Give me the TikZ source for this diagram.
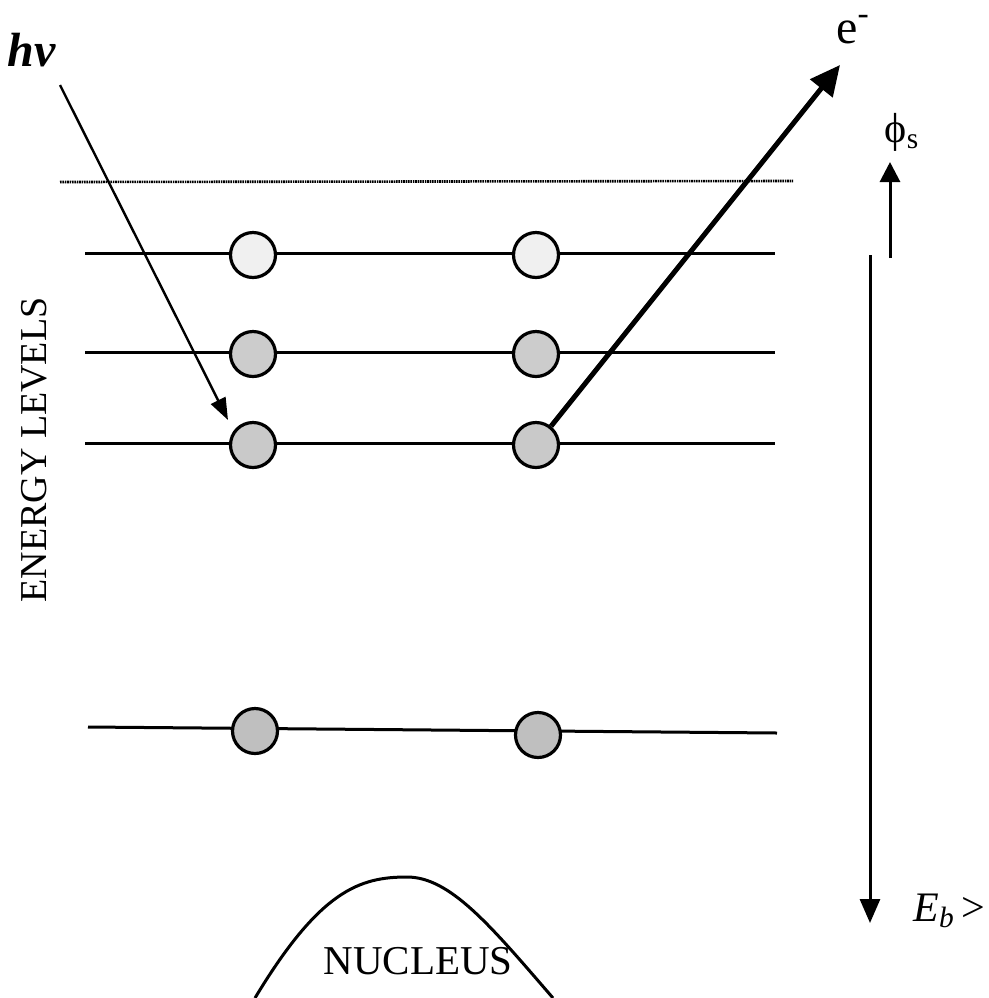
\documentclass[tikz,border=0pt]{standalone}
\usepackage{fontspec}
\setmainfont{Liberation Serif}
\usetikzlibrary{arrows.meta,positioning}

\begin{document}
\begin{tikzpicture}[x=0.5pt,y=-0.5pt,
  level/.style={line width=1.5pt},
  elec/.style={circle,draw,line width=1.6pt,minimum size=22.5pt,inner sep=0pt},
  lbl/.style={inner sep=0pt}]
\useasboundingbox (0,0) rectangle (989,998);
\coordinate (d1) at (60,182); \coordinate (d2) at (793,181);
\draw[line width=1.3pt,dash pattern=on 0.8pt off 0.4pt] (d1) -- (d2);
\foreach \n/\y/\f in {1/253/12,2/352/40,3/443/42}{
  \coordinate (w\n) at (85,\y); \coordinate (e\n) at (775,\y);
  \draw[level] (w\n) -- (e\n);
  \node[elec,fill=gray!\f] (\n1) at (253,\y+2) {}; \node[elec,fill=gray!\f] (\n2) at (536,\y+2) {};
}
\coordinate (w4) at (88,727); \coordinate (e4) at (777,733);
\draw[level] (w4) -- (e4);
\node[elec,fill=gray!50] (41) at (255,731) {}; \node[elec,fill=gray!50] (42) at (538,735) {};
\node[lbl,anchor=base west,font=\fontsize{24}{28}\selectfont\bfseries\itshape] (hv) at (7,66) {hν};
\coordinate (hvtail) at (60,85); \coordinate (hvtip) at (228,420);
\draw[line width=1.2pt,-{Triangle[length=11pt,width=8pt]}] (hvtail) -- (hvtip);
\coordinate (etip) at (840,65);
\draw[line width=2.5pt,-{Triangle[length=15pt,width=14pt]}] (32) -- (etip);
\node[lbl,anchor=base west,font=\fontsize{24}{28}\selectfont] (el) at (836,43) {e\textsuperscript{-}};
\coordinate (phib) at (890,258); \coordinate (phit) at (890,162);
\draw[line width=1.5pt,-{Triangle[length=10pt,width=10pt]}] (phib) -- (phit);
\node[lbl,font=\fontsize{21}{24}\selectfont] (phi) at (902,132) {ϕ\textsubscript{s}};
\coordinate (ebtop) at (870,255); \coordinate (ebtip) at (870,923);
\draw[line width=1.5pt,-{Triangle[length=12pt,width=10pt]}] (ebtop) -- (ebtip);
\node[lbl,anchor=base west,font=\fontsize{21}{24}\selectfont] (eb) at (913,921) {\textit{E\textsubscript{b}}\,>};
\node[lbl,rotate=90,font=\fontsize{19}{22}\selectfont] (elev) at (34,450) {ENERGY LEVELS};
\draw[line width=1.5pt] (255,998) .. controls (320,890) and (360,877) .. (407,877) .. controls (450,877) and (490,925) .. (553,998);
\node[lbl,font=\fontsize{20.5}{24}\selectfont] (nuc) at (418,961) {NUCLEUS};
\end{tikzpicture}
\end{document}
